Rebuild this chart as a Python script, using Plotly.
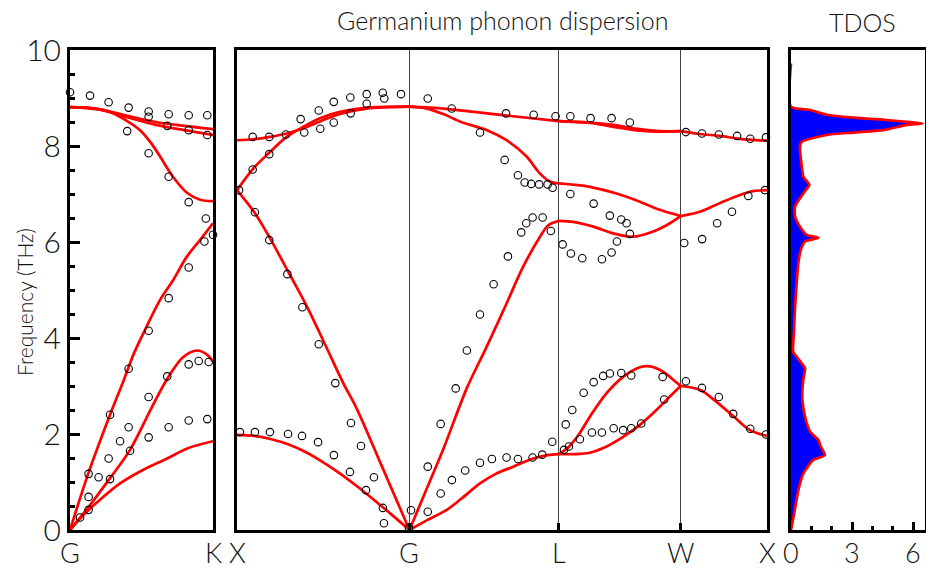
import plotly.graph_objects as go

# ---------------------------------------------------------------
# Brillouin-zone path (lengths in units of 2*pi/a)
# ---------------------------------------------------------------
SEG_XG = 1.0
SEG_GL = 3 ** 0.5 / 2
SEG_LW = 2 ** 0.5 / 2
SEG_WX = 0.5
P_X0 = 0.0
P_G = P_X0 + SEG_XG
P_L = P_G + SEG_GL
P_W = P_L + SEG_LW
P_X1 = P_W + SEG_WX

GK_TICKS = [0, 1]
GK_LABELS = ["G", "K"]
PATH_TICKS = [P_X0, P_G, P_L, P_W, P_X1]
PATH_LABELS = ["X", "G", "L", "W", "X"]
DOS_TICKS = [0, 3, 6]

# ---------------------------------------------------------------
# Gamma-K panel: calculated branches, (fraction of G-K, THz)
# ---------------------------------------------------------------
GK_TA1 = [(0, 0), (0.1, 0.33), (0.21, 0.63), (0.35, 0.97), (0.51, 1.25),
          (0.68, 1.49), (0.82, 1.70), (1.0, 1.85)]
GK_TA2 = [(0, 0), (0.13, 0.48), (0.28, 1.08), (0.42, 1.67), (0.58, 2.6),
          (0.68, 3.15), (0.79, 3.6), (0.89, 3.74), (0.96, 3.65), (1.0, 3.51)]
GK_LA = [(0, 0), (0.128, 1.18), (0.28, 2.40), (0.373, 3.1), (0.45, 3.7),
         (0.536, 4.24), (0.629, 4.79), (0.722, 5.21), (0.816, 5.69),
         (0.909, 6.04), (1.0, 6.39)]
GK_LO = [(0, 8.81), (0.15, 8.79), (0.28, 8.71), (0.4, 8.52), (0.49, 8.33),
         (0.57, 8.05), (0.63, 7.78), (0.72, 7.36), (0.82, 7.02),
         (0.91, 6.88), (1.0, 6.85)]
GK_TO1 = [(0, 8.81), (0.2, 8.77), (0.4, 8.63), (0.6, 8.5), (0.8, 8.42), (1.0, 8.35)]
GK_TO2 = [(0, 8.81), (0.2, 8.76), (0.4, 8.6), (0.6, 8.44), (0.8, 8.33), (1.0, 8.23)]

# Gamma-K measured frequencies
GK_EXP_Q = [0.0, 0.14, 0.27, 0.41, 0.55, 0.55, 0.69, 0.83, 0.96,
            0.40, 0.68, 0.83, 0.96,
            0.55, 0.69, 0.83, 0.95, 0.94, 1.0,
            0.83, 0.69, 0.55, 0.41, 0.68, 0.83, 0.90, 0.97, 0.55,
            0.07, 0.13, 0.13, 0.13, 0.20, 0.28, 0.27, 0.35, 0.42, 0.41,
            0.28, 0.55, 0.69, 0.83, 0.96]
GK_EXP_F = [9.12, 9.05, 8.91, 8.80, 8.72, 8.61, 8.66, 8.64, 8.64,
            8.31, 8.42, 8.33, 8.23,
            7.85, 7.36, 6.83, 6.49, 6.01, 6.15,
            5.47, 4.83, 4.15, 3.36, 3.20, 3.45, 3.52, 3.50, 2.77,
            0.26, 0.42, 0.69, 1.17, 1.10, 1.06, 1.49, 1.85, 1.65, 2.14,
            2.40, 1.93, 2.14, 2.28, 2.31]

# ---------------------------------------------------------------
# X-G-L-W-X panel: calculated branches, (path coordinate, THz)
# ---------------------------------------------------------------
XG_TA = [(0, 1.98), (0.1, 1.96), (0.2, 1.89), (0.3, 1.78), (0.4, 1.62),
         (0.5, 1.41), (0.6, 1.17), (0.7, 0.90), (0.8, 0.61), (0.9, 0.31), (1.0, 0)]
XG_LA = [(0, 7.08), (0.104, 6.6), (0.191, 6.08), (0.297, 5.38), (0.408, 4.64),
         (0.51, 3.87), (0.616, 3.06), (0.694, 2.53), (0.829, 1.42), (1.0, 0)]
XG_LO = [(0, 7.08), (0.094, 7.53), (0.187, 7.86), (0.288, 8.19), (0.384, 8.40),
         (0.481, 8.58), (0.597, 8.71), (0.752, 8.80), (1.0, 8.82)]
XG_TO = [(0, 8.12), (0.094, 8.14), (0.191, 8.19), (0.288, 8.26), (0.384, 8.37),
         (0.481, 8.51), (0.597, 8.67), (0.752, 8.78), (1.0, 8.82)]

GL_TA = [(1.0, 0), (1.1, 0.2), (1.216, 0.42), (1.3, 0.65), (1.409, 0.97),
         (1.5, 1.17), (1.602, 1.32), (1.718, 1.49), (1.8, 1.56), (1.866, 1.58)]
GL_LA = [(1.0, 0), (1.1, 0.86), (1.2, 1.72), (1.332, 2.95), (1.448, 3.82),
         (1.563, 4.72), (1.66, 5.49), (1.757, 6.11), (1.805, 6.35), (1.866, 6.44)]
GL_LO = [(1.0, 8.82), (1.1, 8.78), (1.2, 8.66), (1.3, 8.5), (1.45, 8.33),
         (1.563, 8.12), (1.679, 7.78), (1.756, 7.43), (1.814, 7.26), (1.866, 7.22)]
GL_TO = [(1.0, 8.82), (1.2, 8.78), (1.4, 8.70), (1.6, 8.62), (1.866, 8.52)]

LW_TA1 = [(1.866, 1.58), (1.92, 1.72), (1.98, 1.98), (2.046, 2.36), (2.143, 2.85),
          (2.239, 3.19), (2.336, 3.39), (2.394, 3.41), (2.471, 3.30),
          (2.529, 3.13), (2.573, 3.0)]
LW_TA2 = [(1.866, 1.58), (1.95, 1.58), (2.046, 1.61), (2.143, 1.74), (2.239, 1.94),
          (2.336, 2.19), (2.432, 2.5), (2.529, 2.85), (2.573, 3.0)]
LW_LA = [(1.866, 6.44), (1.95, 6.42), (2.066, 6.32), (2.181, 6.18), (2.297, 6.11),
         (2.414, 6.22), (2.491, 6.35), (2.573, 6.54)]
LW_LO = [(1.866, 7.22), (2.046, 7.15), (2.201, 7.01), (2.336, 6.84),
         (2.452, 6.67), (2.573, 6.54)]
LW_TO1 = [(1.866, 8.52), (2.046, 8.49), (2.181, 8.44), (2.336, 8.35),
          (2.452, 8.31), (2.573, 8.31)]
LW_TO2 = [(1.866, 8.52), (2.046, 8.48), (2.181, 8.40), (2.336, 8.32),
          (2.452, 8.30), (2.573, 8.31)]

WX_AC = [(2.573, 3.0), (2.684, 2.92), (2.78, 2.67), (2.877, 2.375),
         (2.974, 2.08), (3.073, 1.96)]
WX_OPT1 = [(2.573, 6.54), (2.684, 6.63), (2.8, 6.81), (2.916, 6.98),
           (2.993, 7.06), (3.073, 7.08)]
WX_OPT2 = [(2.573, 8.31), (2.684, 8.25), (2.8, 8.21), (2.916, 8.15), (3.073, 8.11)]

# X-G-L-W-X measured frequencies
PATH_EXP_S = [0.091, 0.187, 0.284, 0.390, 0.483, 0.561, 0.659, 0.369, 0.474,
              0.561, 0.657, 0.752, 0.752, 0.845, 0.854, 0.951, 1.106, 1.245,
              0.187, 0.091, 0.012, 0.104, 0.187, 0.292, 0.379, 0.474, 0.570,
              0.661, 0.719, 0.794, 0.846, 0.852,
              0.017, 0.104, 0.191, 0.296, 0.377, 0.47, 0.562, 0.655, 0.748,
              0.997, 1.009, 1.106, 1.181, 1.106, 1.181, 1.268, 1.246, 1.323,
              1.409, 1.478, 1.563, 1.629, 1.714, 1.770, 1.828, 1.896, 1.925,
              1.906, 1.944, 1.333, 1.409, 1.488, 1.571, 1.648, 1.677, 1.714,
              1.772, 1.820, 1.552, 1.629, 1.668, 1.706, 1.752, 1.801, 1.830,
              1.933, 1.409, 1.56, 1.72,
              1.847, 1.933, 2.05, 2.172, 2.278, 2.603, 2.696, 2.794, 2.90,
              2.976, 3.067,
              2.068, 2.162, 2.228, 2.259, 2.278, 1.888, 1.936, 2.002, 2.116,
              2.172, 2.203, 2.593, 2.697, 2.784, 2.870, 2.965, 3.061,
              1.988, 2.058, 2.116, 2.184, 2.239, 2.286, 2.344, 2.477, 2.468,
              2.010, 2.068, 2.123, 2.162, 2.228, 2.286, 2.603, 2.696, 2.794,
              2.877, 2.976, 3.067]
PATH_EXP_F = [8.19, 8.19, 8.24, 8.28, 8.36, 8.49, 8.68, 8.56, 8.74,
              8.92, 9.01, 9.08, 8.88, 9.11, 8.99, 9.08, 8.99, 8.78,
              7.83, 7.51, 7.08, 6.62, 6.04, 5.33, 4.64, 3.87, 3.06,
              2.23, 1.75, 1.1, 0.46, 0.14,
              2.04, 2.04, 2.04, 2.0, 1.96, 1.83, 1.56, 1.21, 0.83,
              0.04, 0.41, 0.38, 0.76, 1.32, 2.21, 2.95, 1.04, 1.24,
              1.40, 1.48, 1.51, 1.48, 1.51, 1.57, 1.84, 1.67, 1.74,
              2.20, 2.5, 3.74, 4.49, 5.12, 5.70, 6.20, 6.39, 6.51,
              6.51, 6.23, 7.71, 7.39, 7.24, 7.21, 7.20, 7.20, 7.13,
              7.0, 8.28, 8.68, 8.65,
              8.62, 8.62, 8.58, 8.58, 8.49, 8.29, 8.26, 8.24, 8.21,
              8.15, 8.18,
              6.80, 6.55, 6.47, 6.39, 6.17, 5.95, 5.76, 5.66, 5.64,
              5.78, 6.01, 5.98, 6.06, 6.39, 6.63, 6.96, 7.08,
              1.89, 2.03, 2.03, 2.12, 2.08, 2.12, 2.22, 2.72, 3.19,
              2.86, 3.08, 3.21, 3.26, 3.27, 3.22, 3.10, 2.96, 2.77,
              2.42, 2.11, 1.99]

# ---------------------------------------------------------------
# Total density of states: (THz, states)
# ---------------------------------------------------------------
DOS_FREQ = [0, 0.35, 0.83, 1.18, 1.46, 1.56, 1.74, 1.875, 2.05, 2.36, 2.71,
            2.92, 3.125, 3.37, 3.47, 3.61, 3.71, 4.17, 4.65, 5.14, 5.56, 5.83,
            6.01, 6.09, 6.15, 6.32, 6.53, 6.74, 6.91, 7.08, 7.19, 7.36, 7.57,
            7.99, 8.09, 8.23, 8.28, 8.33, 8.44, 8.47, 8.51, 8.54, 8.59, 8.65,
            8.75, 8.82, 9.72]
DOS_VAL = [0, 0.16, 0.36, 0.61, 1.10, 1.67, 1.46, 1.35, 0.94, 0.69, 0.56,
           0.56, 0.6, 0.69, 0.53, 0.28, 0.11, 0.15, 0.2, 0.28, 0.36, 0.48,
           0.69, 1.35, 0.77, 0.44, 0.2, 0.2, 0.44, 0.72, 0.90, 0.61, 0.53,
           0.44, 0.53, 1.76, 3.07, 4.55, 5.7, 6.47, 5.53, 4.71, 3.07, 1.76,
           0.94, 0, 0]

# ---------------------------------------------------------------
RED = "#ff0000"
INK = "#111"
FONT = "Lato, Liberation Sans Narrow, DejaVu Sans Condensed, sans-serif"
W, H = 926, 570
M_T, M_B = 50, 40


def px_x(p):
    return p / W


def py(ypx):
    return (H - M_B - ypx) / (H - M_T - M_B)


fig = go.Figure()


def add_branch(pts, xa, ya):
    fig.add_trace(go.Scatter(
        x=[p[0] for p in pts], y=[p[1] for p in pts], mode="lines",
        line=dict(color=RED, width=2.7, shape="spline", smoothing=0.9),
        xaxis=xa, yaxis=ya, showlegend=False, hoverinfo="skip"))


for br in (GK_TA1, GK_TA2, GK_LA, GK_LO, GK_TO1, GK_TO2):
    add_branch(br, "x", "y")
for br in (XG_TA, XG_LA, XG_LO, XG_TO, GL_TA, GL_LA, GL_LO, GL_TO,
           LW_TA1, LW_TA2, LW_LA, LW_LO, LW_TO1, LW_TO2,
           WX_AC, WX_OPT1, WX_OPT2):
    add_branch(br, "x2", "y2")

marker = dict(symbol="circle-open", size=7.5, color="black", line=dict(width=1.1))
fig.add_trace(go.Scatter(x=GK_EXP_Q, y=GK_EXP_F, mode="markers", marker=marker,
                         xaxis="x", yaxis="y", showlegend=False, cliponaxis=False))
fig.add_trace(go.Scatter(x=PATH_EXP_S, y=PATH_EXP_F, mode="markers", marker=marker,
                         xaxis="x2", yaxis="y2", showlegend=False, cliponaxis=False))

fig.add_trace(go.Scatter(x=DOS_VAL, y=DOS_FREQ, mode="lines", fill="tozerox",
                         fillcolor="#0000ff",
                         line=dict(color=RED, width=2.7, shape="spline", smoothing=0.6),
                         xaxis="x3", yaxis="y3", showlegend=False))

frame = dict(showline=True, linecolor="black", linewidth=3, mirror=True,
             zeroline=False, showgrid=False, automargin=False)
tickfont = dict(family=FONT, size=30, color=INK, weight=300)

fig.update_layout(
    width=W, height=H, margin=dict(l=0, r=0, t=M_T, b=M_B),
    paper_bgcolor="white", plot_bgcolor="white",
    xaxis=dict(domain=[px_x(70), px_x(213)], range=[0, 1], tickvals=GK_TICKS,
               ticks="", showticklabels=False, **frame),
    yaxis=dict(domain=[0, 1], range=[0, 10], tickvals=[0, 2, 4, 6, 8, 10],
               ticks="inside", ticklen=10, tickwidth=2.5, tickcolor="black",
               minor=dict(dtick=0.5, ticks="inside", ticklen=5, tickwidth=2.5,
                          tickcolor="black"),
               tickfont=tickfont, ticklabelstandoff=0, anchor="x", **frame),
    xaxis2=dict(domain=[px_x(237), px_x(767)], range=[P_X0, P_X1],
                tickvals=PATH_TICKS, showticklabels=False, ticks="inside",
                ticklen=7, tickwidth=3, tickcolor="black", anchor="y2",
                **{**frame, "showgrid": True}, gridcolor="#444", gridwidth=1),
    yaxis2=dict(domain=[0, 1], range=[0, 10], showticklabels=False, ticks="",
                anchor="x2", **frame),
    xaxis3=dict(domain=[px_x(791), px_x(925)], range=[0, 6.59],
                tickvals=DOS_TICKS, ticks="inside", ticklen=8, tickwidth=2.5,
                tickcolor="black", showticklabels=False,
                minor=dict(dtick=1, ticks="inside", ticklen=4, tickwidth=2.5,
                           tickcolor="black"),
                anchor="y3", **frame),
    yaxis3=dict(domain=[0, 1], range=[0, 10], showticklabels=False, ticks="",
                anchor="x3", **frame),
)

# bottom labels of the three panels
LABEL_Y = py(552)
for xref, vals, texts in (("x", GK_TICKS, GK_LABELS),
                          ("x2", PATH_TICKS, PATH_LABELS),
                          ("x3", DOS_TICKS, [str(v) for v in DOS_TICKS])):
    for v, t in zip(vals, texts):
        fig.add_annotation(text=t, x=v, xref=xref, y=LABEL_Y, yref="paper",
                           xanchor="center", yanchor="middle", showarrow=False,
                           borderpad=0,
                           font=dict(family=FONT, size=27, color=INK, weight=300))

fig.add_annotation(text="Germanium phonon dispersion", x=px_x(502), y=py(20),
                   xref="paper", yref="paper", xanchor="center", yanchor="middle",
                   showarrow=False,
                   font=dict(family=FONT, size=25, color=INK, weight=300))
fig.add_annotation(text="TDOS", x=px_x(862), y=py(22), xref="paper", yref="paper",
                   xanchor="center", yanchor="middle", showarrow=False,
                   font=dict(family=FONT, size=25, color=INK, weight=300))
fig.add_annotation(text="Frequency (THz)", x=px_x(24), y=py(302), xref="paper",
                   yref="paper", xanchor="center", yanchor="middle",
                   showarrow=False, textangle=-90,
                   font=dict(family=FONT, size=21, color=INK, weight=300))

fig.write_html("out.html")
